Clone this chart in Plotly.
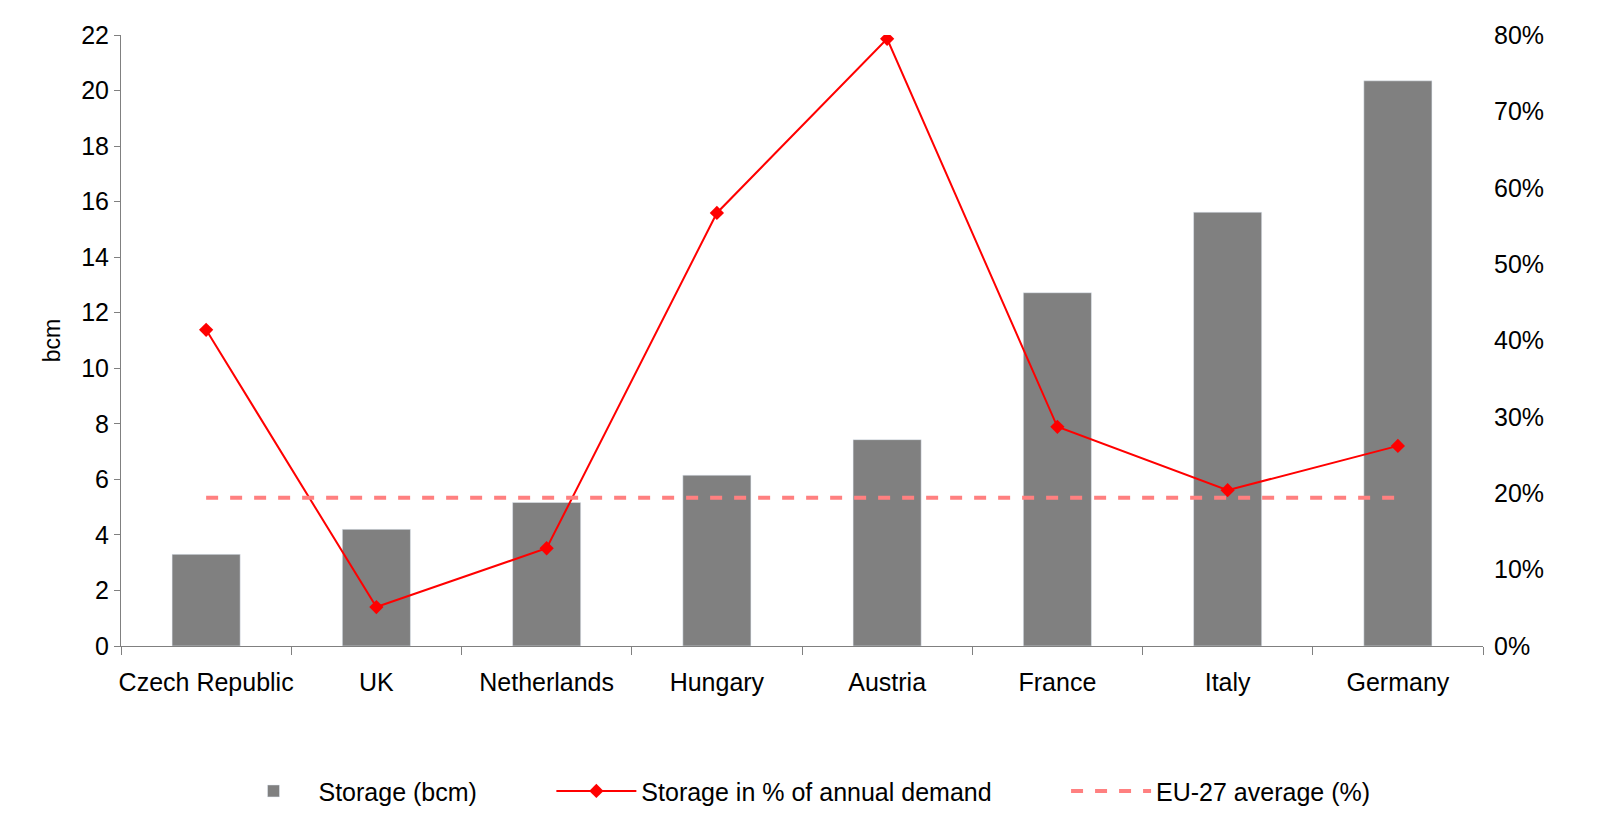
import plotly.graph_objects as go

countries = ["Czech Republic", "UK", "Netherlands", "Hungary", "Austria", "France", "Italy", "Germany"]
storage_bcm = [3.3, 4.2, 5.17, 6.15, 7.43, 12.72, 15.62, 20.35]
storage_pct = [41.4, 5.1, 12.8, 56.7, 79.5, 28.7, 20.4, 26.2]
eu_avg = [19.4] * len(countries)

fig = go.Figure()
fig.add_bar(x=countries, y=storage_bcm, name="Storage (bcm)          ", marker_color="#808080", width=0.4)
fig.add_scatter(x=countries, y=storage_pct, name="Storage in % of annual demand          ", yaxis="y2",
                mode="lines+markers", line=dict(color="#ff0000", width=2),
                marker=dict(symbol="diamond", size=11, color="#ff0000"))
fig.add_scatter(x=countries, y=eu_avg, name="EU-27 average (%)", yaxis="y2", mode="lines",
                line=dict(color="#ff8080", width=4, dash="dash"))

fig.update_layout(
    width=1621, height=821, plot_bgcolor="white", paper_bgcolor="white",
    font=dict(family="Liberation Sans, Arial", size=25, color="#000"),
    margin=dict(l=113, r=146, t=27, b=183),
    xaxis=dict(showline=True, linecolor="#808080", ticks="outside", tickcolor="#808080",
               ticklen=8, tickson="boundaries", tickangle=0, automargin=False,
               ticklabelstandoff=14, tickfont=dict(size=25)),
    yaxis=dict(range=[0, 22], dtick=2, title=dict(text="bcm", font=dict(size=23), standoff=14),
               showgrid=False, zeroline=False, showline=True, linecolor="#808080",
               ticks="outside", tickcolor="#808080", ticklen=6, automargin=False,
               tickfont=dict(size=25)),
    yaxis2=dict(range=[0, 80], dtick=10, overlaying="y", side="right", ticksuffix="%",
                showgrid=False, zeroline=False, showline=False, automargin=False,
                ticklabelstandoff=10, tickfont=dict(size=25)),
    legend=dict(orientation="h", x=0.5, xanchor="center", y=-0.2, yanchor="top",
                font=dict(size=25), itemwidth=80, traceorder="normal"),
)
fig.write_html("out.html")
